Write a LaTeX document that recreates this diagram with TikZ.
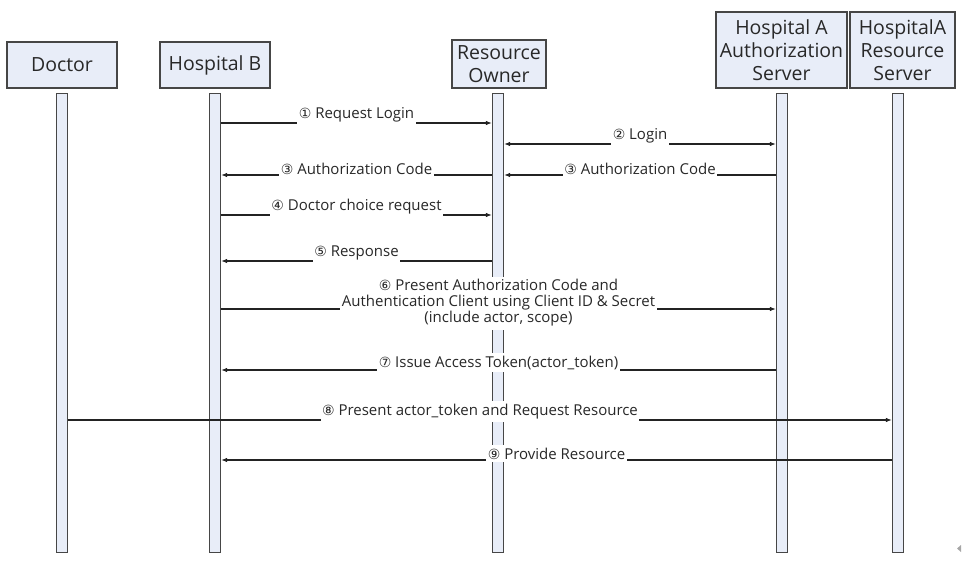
\documentclass[tikz,border=0pt]{standalone}
\usepackage{fontspec}
\setmainfont{Open Sans}
\newfontfamily\circfont{DejaVu Sans}
\usetikzlibrary{arrows.meta}
\definecolor{boxfill}{RGB}{232,237,248}
\definecolor{linec}{RGB}{70,70,70}
\definecolor{arrowc}{RGB}{35,35,35}
\definecolor{textc}{RGB}{40,40,40}
\newcommand{\cnum}[1]{{\circfont\fontsize{14}{14}\selectfont #1}}

\begin{document}
\begin{tikzpicture}[x=1pt,y=1pt,yscale=-1,
    head/.style={draw=linec, fill=boxfill, line width=1.2pt, align=center, inner sep=0pt,
      text=textc, font=\fontsize{19.5}{23}\selectfont},
    life/.style={draw=linec, fill=boxfill, line width=1.2pt, minimum width=11, minimum height=459,
      inner sep=0pt, anchor=north},
    msg/.style={draw=arrowc, line width=1.1pt, -{Latex[length=6pt,width=4.5pt]}},
    lbl/.style={fill=white, inner xsep=1.5pt, inner ysep=3pt, anchor=south, yshift=-3pt,
      text=textc, font=\fontsize{15}{16}\selectfont}]
    \useasboundingbox (0,0) rectangle (971,564);

    %Shape: Lifelines
    \node[life] (docl) at (62,93) {};
    \node[life] (hbl) at (215,93) {};
    \node[life] (rol) at (498,93) {};
    \node[life] (asl) at (782,93) {};
    \node[life] (rsl) at (898,93) {};

    %Shape: Head boxes
    \node[head, minimum width=110, minimum height=46] (doc) at (62,65) {Doctor};
    \node[head, minimum width=110, minimum height=46] (hb) at (215,65) {Hospital B};
    \node[head, minimum width=94, minimum height=48] (ro) at (499,64) {Resource\\Owner};
    \node[head, minimum width=131, minimum height=76] (as) at (781.5,50) {Hospital A\\Authorization\\Server};
    \node[head, minimum width=105, minimum height=76] (rs) at (902.5,50) {HospitalA\\Resource\\Server};

    % message levels
    \coordinate (m1) at (0,123);
    \coordinate (m2) at (0,144);
    \coordinate (m3) at (0,175);
    \coordinate (m4) at (0,215);
    \coordinate (m5) at (0,261);
    \coordinate (m6) at (0,309);
    \coordinate (m7) at (0,370);
    \coordinate (m8) at (0,420);
    \coordinate (m9) at (0,460);

    %Messages
    \draw[msg] (hbl.east |- m1) -- node[lbl] {\cnum{①} Request Login} (rol.west |- m1);
    \draw[msg, {Latex[length=6pt,width=4.5pt]}-{Latex[length=6pt,width=4.5pt]}] (rol.east |- m2) -- node[lbl] {\cnum{②} Login} (asl.west |- m2);
    \draw[msg] (asl.west |- m3) -- node[lbl] {\cnum{③} Authorization Code} (rol.east |- m3);
    \draw[msg] (rol.west |- m3) -- node[lbl] {\cnum{③} Authorization Code} (hbl.east |- m3);
    \draw[msg] (hbl.east |- m4) -- node[lbl] {\cnum{④} Doctor choice request} (rol.west |- m4);
    \draw[msg] (rol.west |- m5) -- node[lbl] {\cnum{⑤} Response} (hbl.east |- m5);
    \draw[msg] (hbl.east |- m6) -- node[lbl, anchor=center, yshift=9pt, align=center]
      {\cnum{⑥} Present Authorization Code and\\Authentication Client using Client ID \& Secret\\(include actor, scope)} (asl.west |- m6);
    \draw[msg] (asl.west |- m7) -- node[lbl] {\cnum{⑦} Issue Access Token(actor\_token)} (hbl.east |- m7);
    \draw[msg] (docl.east |- m8) -- node[lbl] {\cnum{⑧} Present actor\_token and Request Resource} (rsl.west |- m8);
    \draw[msg] (rsl.west |- m9) -- node[lbl] {\cnum{⑨} Provide Resource} (hbl.east |- m9);

    %Shape: Triangle
    \fill[gray!70] (957,548.5) -- (961,545) -- (961,552) -- cycle;
\end{tikzpicture}
\end{document}
